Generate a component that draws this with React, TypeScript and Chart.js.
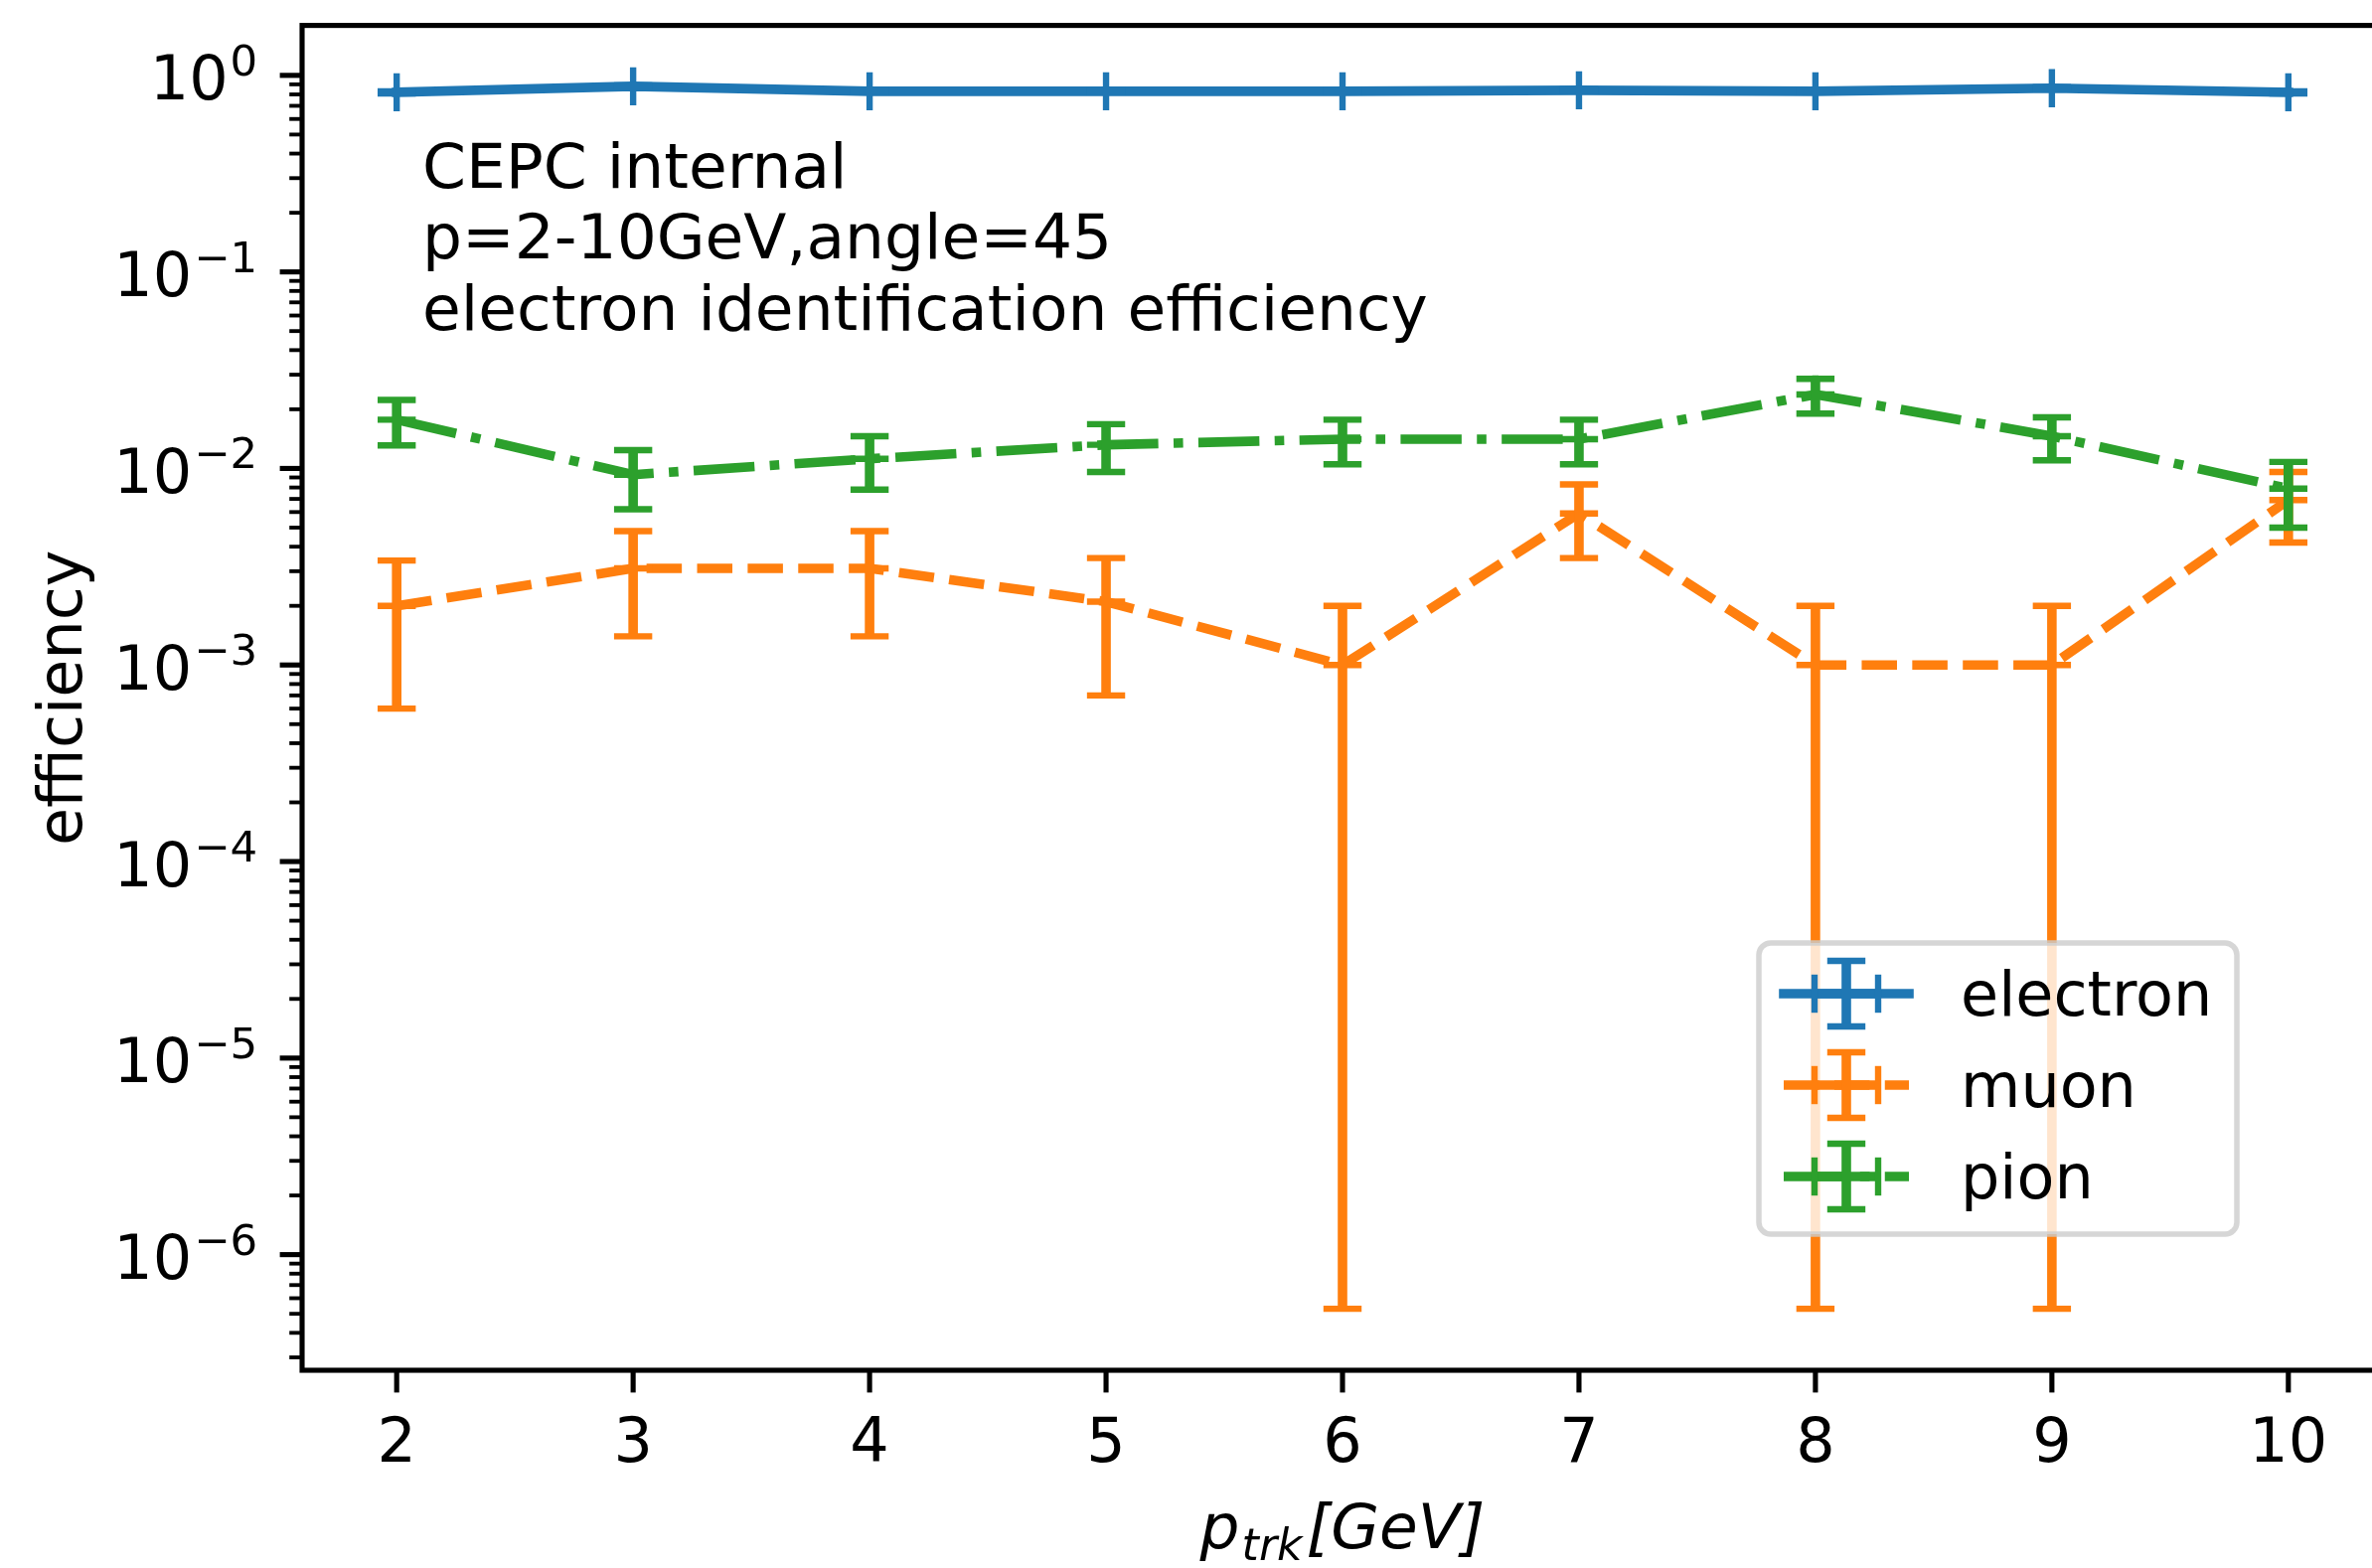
import React, { useEffect, useRef } from "react";
import { Chart, registerables } from "chart.js";

Chart.register(...registerables);

// ---------------- data ----------------
const momenta = [2, 3, 4, 5, 6, 7, 8, 9, 10];

const electronEff = [0.82, 0.88, 0.83, 0.83, 0.83, 0.84, 0.83, 0.86, 0.82];
const electronErr = [0.01, 0.01, 0.01, 0.01, 0.01, 0.01, 0.01, 0.01, 0.01];

const muonEff = [0.002, 0.0031, 0.0031, 0.0021, 0.001, 0.0059, 0.001, 0.001, 0.0069];
const muonErr = [0.0014, 0.0017, 0.0017, 0.0014, 0.00099947, 0.0024, 0.00099947, 0.00099947, 0.0027];

const pionEff = [0.0177, 0.0093, 0.0112, 0.0132, 0.0141, 0.0141, 0.0238, 0.0146, 0.0079];
const pionErr = [0.0046, 0.0031, 0.0034, 0.0036, 0.0036, 0.0036, 0.0048, 0.0036, 0.0029];

const seriesNames = ["electron", "muon", "pion"];
const seriesColors = ["#1f77b4", "#ff7f0e", "#2ca02c"];

const xTickValues = [2, 3, 4, 5, 6, 7, 8, 9, 10];
const xTickLabels = ["2", "3", "4", "5", "6", "7", "8", "9", "10"];
const yTickExponents = [-6, -5, -4, -3, -2, -1, 0];
const yTickSuperscripts = ["\u22126", "\u22125", "\u22124", "\u22123", "\u22122", "\u22121", "0"];

const annotationLines = [
  "CEPC internal",
  "p=2-10GeV,angle=45",
  "electron identification efficiency",
];
const yAxisTitle = "efficiency";

const X_MIN = 1.6;
const X_MAX = 10.4;
const Y_MIN = 2.58e-7;
const Y_MAX = 1.795;

// ---------------- styling ----------------
const PT = 6.4; // pixels per point
const FONT = '"DejaVu Sans"';
const FS = 62;
const FS_NOTE = 63;
const LW = 1.5 * PT;
const CAP = 3 * PT; // half cap length
const MEW = 1 * PT;
const DASHED = [5.55 * PT, 2.4 * PT];
const DASHDOT = [9.6 * PT, 2.4 * PT, 1.5 * PT, 2.4 * PT];
const seriesDash = [[], DASHED, DASHDOT];

const CANVAS_W = 2430;
const CANVAS_H = 1578;

function line(ctx: CanvasRenderingContext2D, x1: number, y1: number, x2: number, y2: number) {
  ctx.beginPath();
  ctx.moveTo(x1, y1);
  ctx.lineTo(x2, y2);
  ctx.stroke();
}

const errorBarPlugin = {
  id: "errorBars",
  afterDatasetDraw(chart: any, args: any) {
    const ds = chart.data.datasets[args.index];
    const xs = chart.scales.x;
    const ys = chart.scales.y;
    const ctx: CanvasRenderingContext2D = chart.ctx;
    const a = chart.chartArea;
    ctx.save();
    ctx.beginPath();
    ctx.rect(a.left, a.top, a.right - a.left, a.bottom - a.top);
    ctx.clip();
    ctx.strokeStyle = ds.borderColor;
    ctx.setLineDash([]);
    ctx.lineCap = "butt";
    ds.data.forEach((p: any, i: number) => {
      const px = xs.getPixelForValue(p.x);
      const plo = ys.getPixelForValue(p.y - ds.errValues[i]);
      const phi = ys.getPixelForValue(p.y + ds.errValues[i]);
      ctx.lineWidth = LW;
      line(ctx, px, plo, px, phi);
      ctx.lineWidth = MEW;
      line(ctx, px - CAP, plo, px + CAP, plo);
      line(ctx, px - CAP, phi, px + CAP, phi);
    });
    ctx.restore();
  },
};

function drawPowerLabel(ctx: CanvasRenderingContext2D, right: number, y: number, sup: string) {
  ctx.textAlign = "left";
  ctx.textBaseline = "alphabetic";
  ctx.font = `${FS * 0.7}px ${FONT}`;
  const supW = ctx.measureText(sup).width;
  ctx.font = `${FS}px ${FONT}`;
  const baseW = ctx.measureText("10").width;
  const left = right - supW - baseW - 2;
  ctx.fillText("10", left, y + 24.5);
  ctx.font = `${FS * 0.7}px ${FONT}`;
  ctx.fillText(sup, left + baseW + 2, y);
}

const axesPlugin = {
  id: "mplAxes",
  afterDatasetsDraw(chart: any) {
    const ctx: CanvasRenderingContext2D = chart.ctx;
    const a = chart.chartArea;
    const xs = chart.scales.x;
    const ys = chart.scales.y;
    ctx.save();
    ctx.setLineDash([]);
    ctx.strokeStyle = "#000";
    ctx.fillStyle = "#000";

    // annotation text
    ctx.font = `${FS_NOTE}px ${FONT}`;
    ctx.textAlign = "left";
    ctx.textBaseline = "alphabetic";
    annotationLines.forEach((t, i) => ctx.fillText(t, 425, 189 + i * 71.3));

    // spines
    ctx.lineWidth = 0.8 * PT;
    ctx.strokeRect(a.left, a.top, a.right - a.left, a.bottom - a.top);

    // x ticks
    ctx.lineCap = "butt";
    ctx.font = `${FS}px ${FONT}`;
    ctx.textAlign = "center";
    xTickValues.forEach((v, i) => {
      const px = xs.getPixelForValue(v);
      ctx.lineWidth = 0.8 * PT;
      line(ctx, px, a.bottom, px, a.bottom + 3.5 * PT);
      ctx.fillText(xTickLabels[i], px, 1471);
    });

    // y major ticks
    yTickExponents.forEach((e, i) => {
      const py = ys.getPixelForValue(Math.pow(10, e));
      ctx.lineWidth = 0.8 * PT;
      line(ctx, a.left - 3.5 * PT, py, a.left, py);
      drawPowerLabel(ctx, a.left - 7 * PT, py, yTickSuperscripts[i]);
    });
    // y minor ticks
    for (let e = -7; e <= 0; e++) {
      for (let k = 2; k <= 9; k++) {
        const v = k * Math.pow(10, e);
        if (v < Y_MIN || v > Y_MAX) continue;
        const py = ys.getPixelForValue(v);
        ctx.lineWidth = 0.6 * PT;
        line(ctx, a.left - 2 * PT, py, a.left, py);
      }
    }

    // y label
    ctx.save();
    ctx.translate(82, (a.top + a.bottom) / 2);
    ctx.rotate(-Math.PI / 2);
    ctx.font = `${FS}px ${FONT}`;
    ctx.textAlign = "center";
    ctx.textBaseline = "alphabetic";
    ctx.fillText(yAxisTitle, 0, 0);
    ctx.restore();

    // x label: p_{trk}[GeV]
    ctx.textAlign = "left";
    const fMain = `italic ${FS_NOTE}px ${FONT}`;
    const fSub = `italic ${FS_NOTE * 0.7}px ${FONT}`;
    ctx.font = fMain;
    const wP = ctx.measureText("p").width;
    const wRest = ctx.measureText("[GeV]").width;
    ctx.font = fSub;
    const wSub = ctx.measureText("trk").width;
    const total = wP + wSub + wRest + 6;
    const cx = (a.left + a.right) / 2;
    let x0 = cx - total / 2;
    const base = 1558;
    ctx.font = fMain;
    ctx.fillText("p", x0, base);
    x0 += wP + 2;
    ctx.font = fSub;
    ctx.fillText("trk", x0, base + 12);
    x0 += wSub + 4;
    ctx.font = fMain;
    ctx.fillText("[GeV]", x0, base);
    ctx.restore();
  },
};

const legendPlugin = {
  id: "mplLegend",
  afterDraw(chart: any) {
    const ctx: CanvasRenderingContext2D = chart.ctx;
    ctx.save();
    // frame
    ctx.beginPath();
    (ctx as any).roundRect(1770, 949, 481, 293, 12);
    ctx.fillStyle = "rgba(255,255,255,0.8)";
    ctx.fill();
    ctx.strokeStyle = "rgba(204,204,204,0.8)";
    ctx.lineWidth = 5.5;
    ctx.stroke();

    const rows = [1000, 1092, 1184];
    const cx = 1858;
    seriesNames.forEach((name, i) => {
      const cy = rows[i];
      const col = seriesColors[i];
      ctx.strokeStyle = col;
      // data line
      ctx.lineWidth = LW;
      ctx.setLineDash(seriesDash[i]);
      ctx.lineCap = i === 0 ? "square" : "butt";
      line(ctx, 1795, cy, 1921, cy);
      ctx.setLineDash([]);
      ctx.lineCap = "butt";
      // x error bar + caps
      ctx.lineWidth = LW;
      line(ctx, cx - 32, cy, cx + 32, cy);
      ctx.lineWidth = MEW;
      line(ctx, cx - 32, cy - CAP, cx - 32, cy + CAP);
      line(ctx, cx + 32, cy - CAP, cx + 32, cy + CAP);
      // y error bar + caps
      ctx.lineWidth = LW;
      line(ctx, cx, cy - 33, cx, cy + 33);
      ctx.lineWidth = MEW;
      line(ctx, cx - CAP, cy - 33, cx + CAP, cy - 33);
      line(ctx, cx - CAP, cy + 33, cx + CAP, cy + 33);
      // label
      ctx.fillStyle = "#000";
      ctx.font = `${FS}px ${FONT}`;
      ctx.textAlign = "left";
      ctx.textBaseline = "alphabetic";
      ctx.fillText(name, 1973, cy + 22);
    });
    ctx.restore();
  },
};

export default function App() {
  const ref = useRef<HTMLCanvasElement | null>(null);

  useEffect(() => {
    if (!ref.current) return;
    const effs = [electronEff, muonEff, pionEff];
    const errs = [electronErr, muonErr, pionErr];
    const datasets = seriesNames.map((name, i) => ({
      label: name,
      data: momenta.map((x, j) => ({ x, y: effs[i][j] })),
      errValues: errs[i],
      borderColor: seriesColors[i],
      backgroundColor: seriesColors[i],
      borderWidth: LW,
      borderDash: seriesDash[i],
      borderCapStyle: i === 0 ? "square" : "butt",
      borderJoinStyle: "round",
      fill: false,
      tension: 0,
      pointStyle: "cross",
      pointRadius: CAP,
      pointBorderWidth: MEW,
      pointBorderColor: seriesColors[i],
      pointBackgroundColor: seriesColors[i],
      order: 3 - i,
    }));

    const chart = new Chart(ref.current, {
      type: "line",
      data: { datasets } as any,
      options: {
        responsive: false,
        animation: false,
        devicePixelRatio: 1,
        events: [],
        layout: { padding: { left: 304, top: 20, right: CANVAS_W - 2398, bottom: CANVAS_H - 1379 } },
        scales: {
          x: { type: "linear", min: X_MIN, max: X_MAX, display: false },
          y: { type: "logarithmic", min: Y_MIN, max: Y_MAX, display: false },
        },
        plugins: { legend: { display: false }, tooltip: { enabled: false } },
      } as any,
      plugins: [errorBarPlugin, axesPlugin, legendPlugin],
    });
    return () => chart.destroy();
  }, []);

  return (
    <div
      style={{
        position: "fixed",
        left: 0,
        top: 0,
        width: 2387,
        height: 1578,
        overflow: "hidden",
        background: "#fff",
      }}
    >
      <canvas
        ref={ref}
        width={CANVAS_W}
        height={CANVAS_H}
        style={{ display: "block", width: CANVAS_W, height: CANVAS_H }}
      />
    </div>
  );
}
